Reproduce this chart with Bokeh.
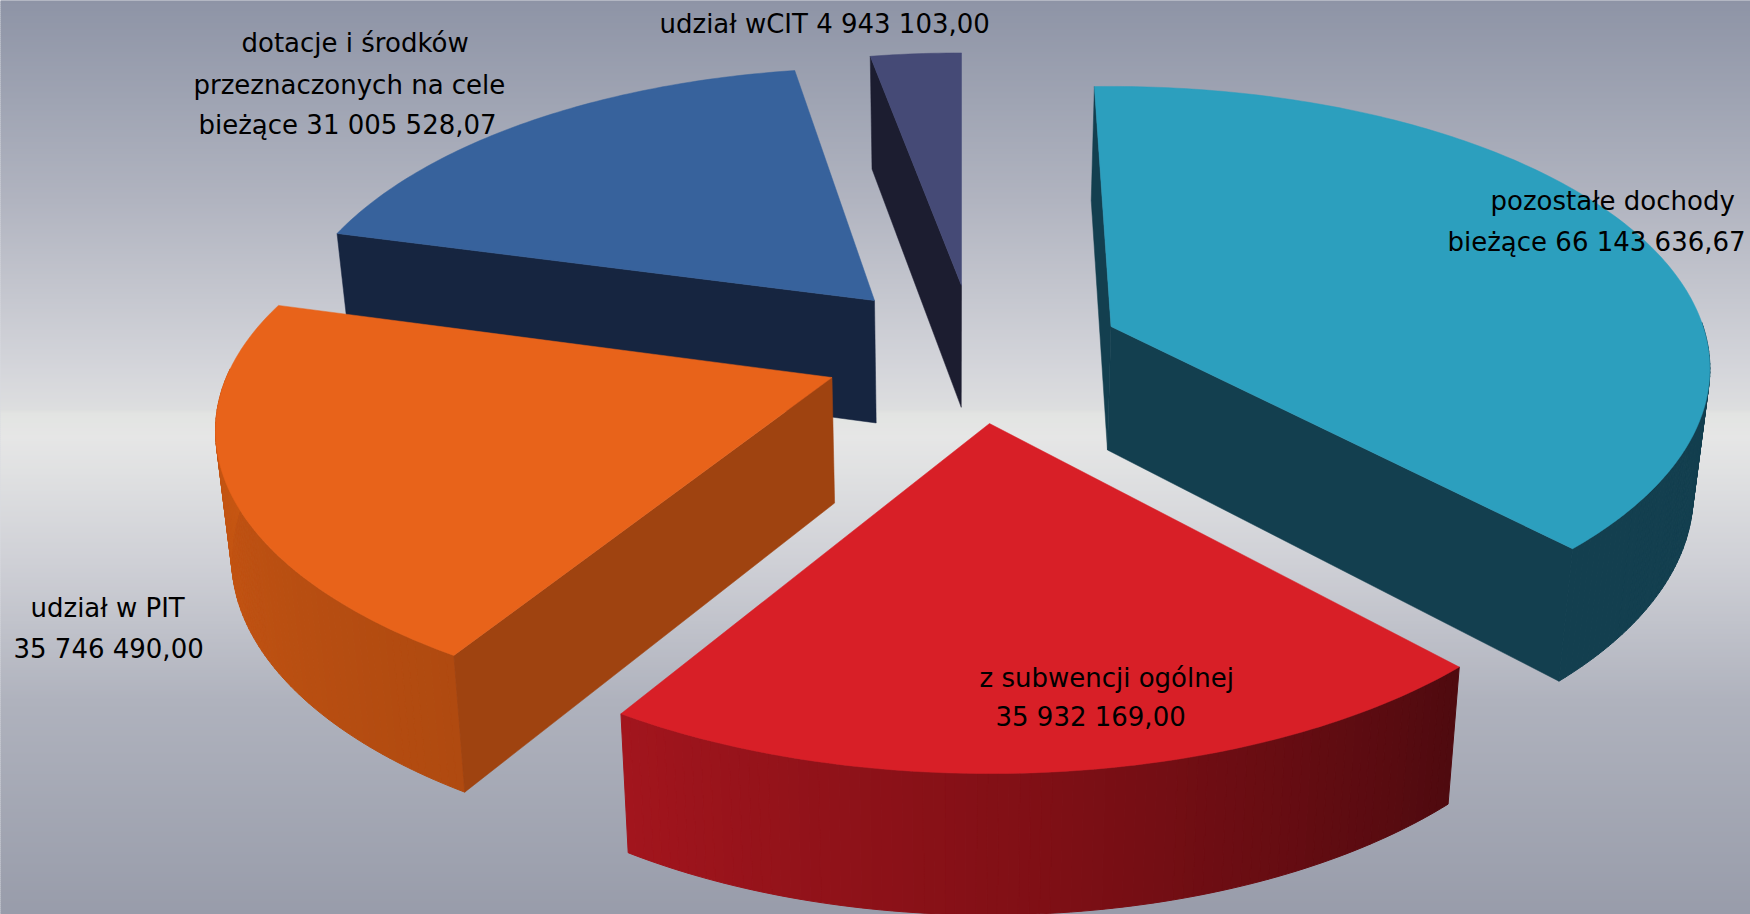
import math
from bokeh.plotting import figure
from bokeh.models import Range1d
from bokeh.core.properties import value
from bokeh.embed import file_html
from bokeh.resources import INLINE

# ---- data ----
categories = ["pozostałe dochody bieżące", "z subwencji ogólnej", "udział w PIT",
              "dotacje i środków przeznaczonych na cele bieżące", "udział wCIT"]
amounts = [66143636.67, 35932169.00, 35746490.00, 31005528.07, 4943103.00]
label_lines = [
    ["pozostałe dochody", "bieżące 66 143 636,67"],
    ["z subwencji ogólnej", "35 932 169,00"],
    ["udział w PIT", "35 746 490,00"],
    ["dotacje i środków", "przeznaczonych na cele", "bieżące 31 005 528,07"],
    ["udział wCIT 4 943 103,00"],
]

# ---- layout and style (reference pixels) ----
W, H = 1750, 914
FIRST_ANGLE = 91.0
RX, RY = 588.0, 284.6
DEPTH_FAR, DEPTH_SLOPE, DEPTH_Y0 = 112.7, 0.04, 56.0
VANISH_X, VANISH_K = 950.0, 0.022
apex = [(1110.5, 326), (989, 423), (831.5, 377), (874, 300), (961, 285)]
scale_x = [1.007, 1.02, 1.03, 0.99, 0.995]
scale_y = [0.97, 1.0, 0.965, 0.97, 0.97]
persp = [0.15, 0.187, 0.187, 0.187, 0.187]
nudge_start = [0.85, -1.5, -1.2, -0.2, -0.6]
nudge_end = [0.1, -0.6, -1.5, -1.9, -1.0]
top_col = ["#2C9FBE", "#D81F27", "#E8631A", "#37629C", "#454A76"]
radial_col = ["#133F4F", "#5A0B11", "#9F4310", "#162540", "#1C1D30"]
arc_stops = [
    ["#133F4F", "#133F4F"],
    ["#4F0A0F", "#7E0F15", "#A2151D"],
    ["#B04A10", "#C05212", "#CB5B14"],
    ["#162540", "#162540"],
    ["#1C1D30", "#1C1D30"],
]
start_wall = [True, False, True, True, True]
end_wall = [True, False, False, False, False]
draw_order = [4, 3, 0, 2, 1]
label_x = [[1490, 1447], [979, 995], [30, 13], [241, 193, 198], [659]]
label_y = [[200, 241], [677, 716], [607, 648], [42, 84, 124], [23]]
bg_stops = [(0, "#8E94A6"), (100, "#9FA4B3"), (200, "#B1B4C0"), (370, "#D5D6DB"), (408, "#DDDEDF"),
            (412, "#E2E4E2"), (435, "#E6E6E6"), (470, "#E0E1E2"), (560, "#CFD0D6"),
            (700, "#AFB2BD"), (914, "#989CAA")]
LABEL_FONT = "DejaVu Sans"
LABEL_SIZE = "26px"


def rgb(h):
    return tuple(int(h[i:i + 2], 16) for i in (1, 3, 5))


def mix(a, b, t):
    a, b = rgb(a), rgb(b)
    return "#%02x%02x%02x" % tuple(round(a[i] + (b[i] - a[i]) * t) for i in range(3))


def ramp(stops, t):
    t = max(0.0, min(1.0, t)) * (len(stops) - 1)
    i = min(int(t), len(stops) - 2)
    return mix(stops[i], stops[i + 1], t - i)


def top_point(i, deg, r=1.0):
    th = math.radians(deg)
    u, v = r * math.cos(th), r * math.sin(th)
    k = 1.0 / (1.0 + persp[i] * v)
    return (apex[i][0] + RX * scale_x[i] * u * k,
            apex[i][1] - RY * scale_y[i] * v * k)


def bottom_point(i, deg, r=1.0):
    x, y = top_point(i, deg, r)
    return x - (x - VANISH_X) * VANISH_K, y + DEPTH_FAR + DEPTH_SLOPE * (y - DEPTH_Y0)


p = figure(width=W, height=H, output_backend="svg", toolbar_location=None,
           x_range=Range1d(0, W), y_range=Range1d(H, 0), min_border=0,
           outline_line_color=None, border_fill_color="#B4B7C2", background_fill_color="#B4B7C2")
p.axis.visible = False
p.grid.visible = False

# background bands
ys0, ys1, cols = [], [], []
for y in range(0, H, 2):
    for (y0, c0), (y1, c1) in zip(bg_stops, bg_stops[1:]):
        if y0 <= y <= y1:
            cols.append(mix(c0, c1, (y - y0) / (y1 - y0)))
            break
    ys0.append(y if y else -6)
    ys1.append(y + 2.5 if y < H - 2 else H + 6)
p.quad(left=-6, right=W + 6, top=ys0, bottom=ys1, fill_color=cols, line_color=None)

# slices, angles from the amounts
total = sum(amounts)
spans = [a / total * 360.0 for a in amounts]
starts = [FIRST_ANGLE - sum(spans[:i]) for i in range(len(spans))]

for i in draw_order:
    a0 = starts[i] + nudge_start[i]
    a1 = starts[i] - spans[i] + nudge_end[i]
    span = a0 - a1
    n = max(4, int(span * 1.2))
    angs = [a0 - span * j / n for j in range(n + 1)]

    def radial(deg):
        t0, t1 = top_point(i, deg), top_point(i, deg, 0)
        b1, b0 = bottom_point(i, deg, 0), bottom_point(i, deg)
        return [t0[0], t1[0], b1[0], b0[0]], [t0[1], t1[1], b1[1], b0[1]]

    xs, ys, cs = [], [], []
    for j in range(n):
        if math.sin(math.radians(angs[j])) > 0.02:
            continue
        t0, t1 = top_point(i, angs[j]), top_point(i, angs[j + 1])
        b0, b1 = bottom_point(i, angs[j]), bottom_point(i, angs[j + 1])
        xs.append([t0[0], t1[0], b1[0], b0[0]])
        ys.append([t0[1], t1[1], b1[1], b0[1]])
        cs.append(ramp(arc_stops[i], j / (n - 1)))
    if xs:
        p.patches(xs, ys, fill_color=cs, line_color=cs, line_width=1)

    if start_wall[i]:
        x, y = radial(a0)
        p.patch(x, y, fill_color=radial_col[i], line_color=radial_col[i], line_width=0.5)
    if end_wall[i]:
        x, y = radial(a1)
        p.patch(x, y, fill_color=radial_col[i], line_color=radial_col[i], line_width=0.5)

    tx = [apex[i][0]] + [top_point(i, a)[0] for a in angs]
    ty = [apex[i][1]] + [top_point(i, a)[1] for a in angs]
    p.patch(tx, ty, fill_color=top_col[i], line_color=top_col[i], line_width=0.5)

# labels
for lines, xs, ys in zip(label_lines, label_x, label_y):
    p.text(x=xs, y=ys, text=lines, text_align="left", text_baseline="middle",
           text_color="#000000", text_font=value(LABEL_FONT), text_font_size=value(LABEL_SIZE))

open("out.html", "w").write(file_html(p, INLINE))
